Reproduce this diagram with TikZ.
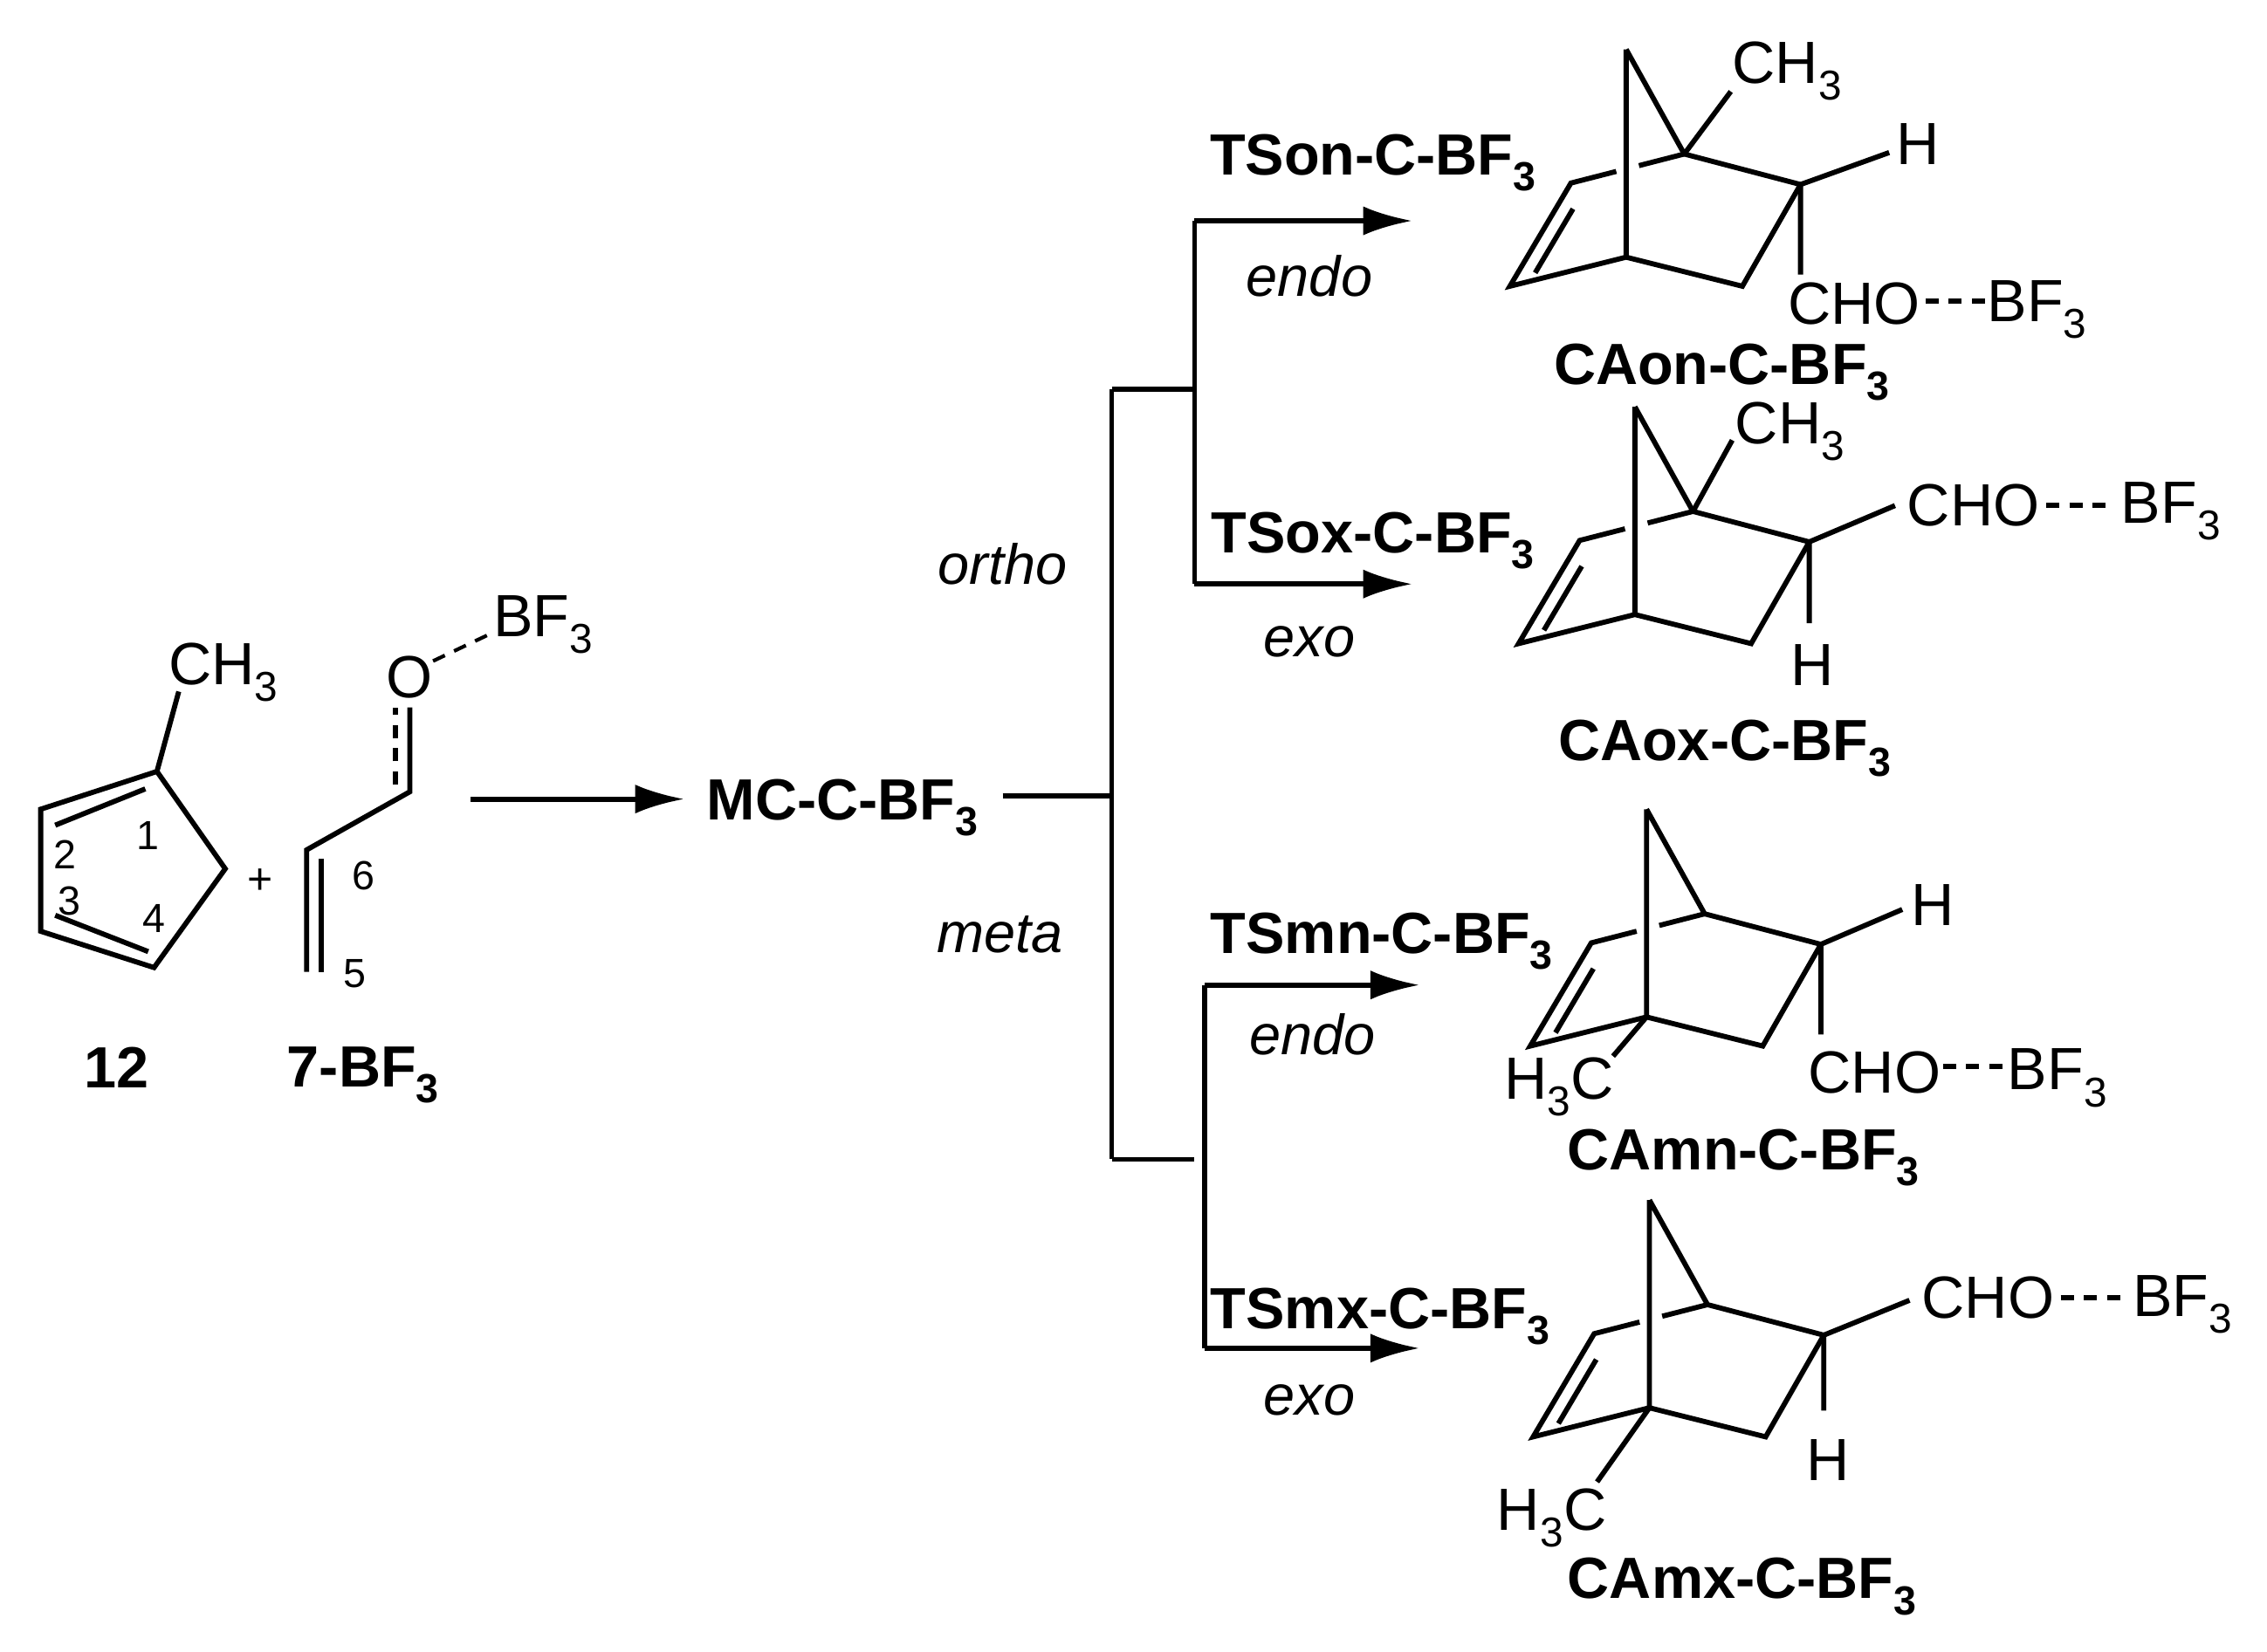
\documentclass[tikz,border=0pt]{standalone}
\usepackage{fontspec}
\setmainfont{Liberation Sans}
\usetikzlibrary{calc,arrows.meta}
\begin{document}
\begin{tikzpicture}[x=1pt,y=-1pt,line width=3.5pt,line cap=butt,line join=miter,
  lab/.style={inner sep=0pt,font=\fontsize{41}{48}\selectfont},
  blab/.style={inner sep=0pt,font=\fontsize{40}{46}\selectfont\bfseries},
  ilab/.style={inner sep=0pt,font=\fontsize{39}{44}\selectfont\itshape},
  num/.style={inner sep=0pt,font=\fontsize{28}{32}\selectfont},
  arr/.style={-{Latex[length=34pt,width=20pt]}},
  dsh/.style={dash pattern=on 9pt off 7pt}]
\useasboundingbox (0,0) rectangle (1560,1137);
\fill[white] (0,0) rectangle (1560,1137);
\newcommand\Norb{%
  \coordinate (T) at (0,-143); \coordinate (C1) at (40,-71);
  \coordinate (C2) at (120,-50); \coordinate (C3) at (80,20);
  \coordinate (C4) at (0,0); \coordinate (C5) at (-80,20);
  \coordinate (C6) at (-38,-51);
  \draw (T) -- (C4) (T) -- (C1) -- (C2) -- (C3) -- (C4) -- (C5) -- (C6) -- ($(C6)!0.4!(C1)$);
  \draw ($(C6)!0.6!(C1)$) -- (C1);
  \draw ($(C5)!0.2!(C6)+(9,5)$) -- ($(C5)!0.82!(C6)+(9,5)$);
}
% ---- 12
\coordinate (a1) at (108,531); \coordinate (a2) at (28,557); \coordinate (a3) at (28,641);
\coordinate (a4) at (106,666); \coordinate (a5) at (155,598); \coordinate (me) at (123,476);
\draw (a1) -- (a2) -- (a3) -- (a4) -- (a5) -- cycle (a1) -- (me);
\draw (38,568) -- (100,543) (38,630) -- (102,655);
\node[lab] (ch3a) at (154,463) {CH\textsubscript{3}};
\node[num] at (102,575) {1};\node[num] at (45,588) {2};
\node[num] at (48,620) {3};\node[num] at (106,632) {4};
\node[lab,font=\fontsize{30}{34}\selectfont] at (179,607) {+};
% ---- 7-BF3
\coordinate (b5) at (211,669); \coordinate (b6) at (211,585); \coordinate (b7) at (282,545);
\draw (b5) -- (b6) -- (b7) -- (282,487);
\draw (221,591) -- (221,669);
\draw[dsh] (272,540) -- (272,487);
\node[lab] (O) at (282,466) {O};
\node[lab] (bf3a) at (374,430) {BF\textsubscript{3}};
\draw[dsh,line width=2.5pt] (298,455) -- (338,436);
\node[num] at (250,603) {6};\node[num] at (244,670) {5};
\node[blab] at (80,735) {12};
\node[blab] at (250,740) {7-BF\textsubscript{3}};
% ---- main arrow
\coordinate (s0) at (324,550); \coordinate (s1) at (471,550);
\draw[arr] (s0) -- (s1);
\node[blab] (mc) at (580,556) {MC-C-BF\textsubscript{3}};
\coordinate (j0) at (690,548); \coordinate (j1) at (765,548);
\draw (j0) -- (j1);
\draw (765,268) -- (765,798);
\draw (765,268) -- (822,268) (765,798) -- (822,798);
\draw (822,152) -- (822,402);
\draw[arr] (822,152) -- (972,152);
\draw[arr] (822,402) -- (972,402);
\draw (829,678) -- (829,928);
\draw[arr] (829,678) -- (977,678);
\draw[arr] (829,928) -- (977,928);
\node[blab] at (945,112) {TSon-C-BF\textsubscript{3}};
\node[ilab] at (901,190) {endo};
\node[ilab] at (690,388) {ortho};
\node[blab] at (945,372) {TSox-C-BF\textsubscript{3}};
\node[ilab] at (901,442) {exo};
\node[ilab] at (688,643) {meta};
\node[blab] at (951,648) {TSmn-C-BF\textsubscript{3}};
\node[ilab] at (903,712) {endo};
\node[blab] at (950,906) {TSmx-C-BF\textsubscript{3}};
\node[ilab] at (901,964) {exo};
% ---- CAon
\begin{scope}[shift={(1119,177)}]
\Norb
\draw (C1) -- (72,-114) (C2) -- (181,-72) (C2) -- (C2|-0,12);
\end{scope}
\node[lab] at (1230,49) {CH\textsubscript{3}};
\node[lab] at (1320,99) {H};
\node[lab] (cho1) at (1276,209) {CHO};
\node[lab] (bfo1) at (1402,213) {BF\textsubscript{3}};
\draw[dsh] (1325,207) -- (1368,207);
\node[blab] at (1185,256) {CAon-C-BF\textsubscript{3}};
% ---- CAox
\begin{scope}[shift={(1125,423)}]
\Norb
\draw (C1) -- (67,-120) (C2) -- (179,-75) (C2) -- ($(C2)+(0,56)$);
\end{scope}
\node[lab] at (1232,297) {CH\textsubscript{3}};
\node[lab] (cho2) at (1358,348) {CHO};
\node[lab] (bfo2) at (1494,352) {BF\textsubscript{3}};
\draw[dsh] (1408,348) -- (1452,348);
\node[lab] at (1247,458) {H};
\node[blab] at (1187,515) {CAox-C-BF\textsubscript{3}};
% ---- CAmn
\begin{scope}[shift={(1133,700)}]
\Norb
\draw (C2) -- (176,-74) (C2) -- ($(C2)+(0,62)$) (C4) -- (-23,27);
\end{scope}
\node[lab] at (1330,623) {H};
\node[lab] (cho3) at (1290,738) {CHO};
\node[lab] (bfo3) at (1416,742) {BF\textsubscript{3}};
\draw[dsh] (1337,734) -- (1380,734);
\node[lab] at (1073,748) {H\textsubscript{3}C};
\node[blab] at (1200,797) {CAmn-C-BF\textsubscript{3}};
% ---- CAmx
\begin{scope}[shift={(1135,969)}]
\Norb
\draw (C2) -- (179,-74) (C2) -- ($(C2)+(0,52)$) (C4) -- (-36,51);
\end{scope}
\node[lab] at (1258,1005) {H};
\node[lab] (cho4) at (1368,893) {CHO};
\node[lab] (bfo4) at (1502,898) {BF\textsubscript{3}};
\draw[dsh] (1418,893) -- (1462,893);
\node[lab] at (1068,1045) {H\textsubscript{3}C};
\node[blab] at (1199,1092) {CAmx-C-BF\textsubscript{3}};
\end{tikzpicture}
\end{document}
